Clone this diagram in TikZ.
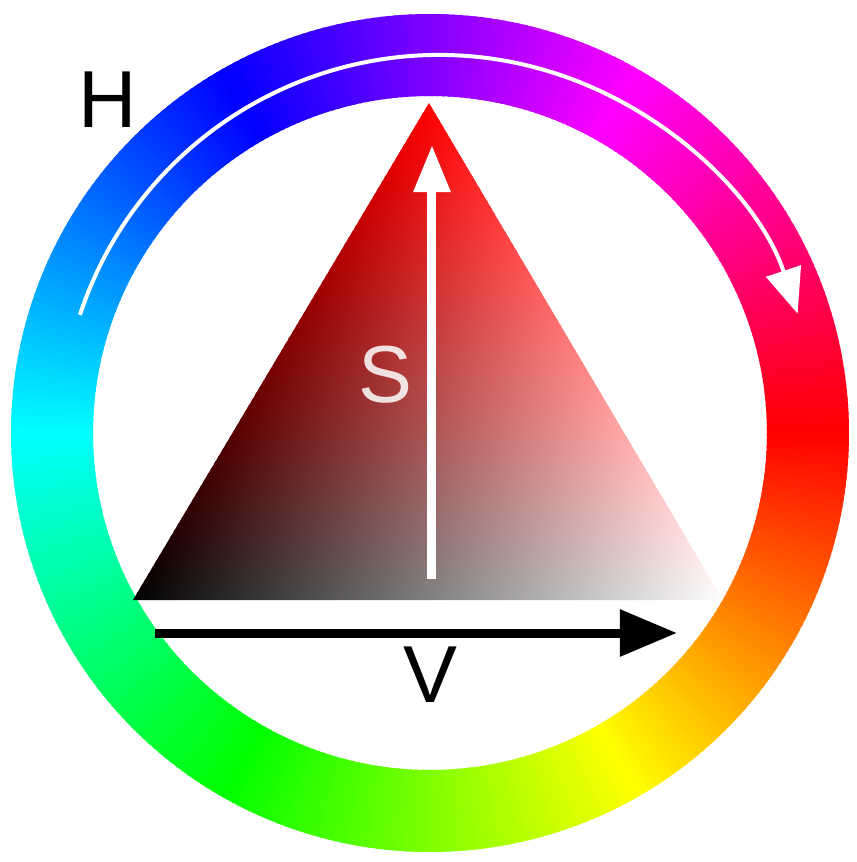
\documentclass[tikz,border=0pt]{standalone}
\usepackage{fontspec}
\setmainfont{Liberation Sans}
\usetikzlibrary{arrows.meta}

\begin{document}
\begin{tikzpicture}[>=Stealth,
  lbl/.style={font=\fontsize{23}{23}\selectfont, inner sep=0pt},
  axis/.style={line width=0.9mm}]
  \useasboundingbox[fill=white] (0,0) rectangle (8.56,8.62);
  % hue ring
  \coordinate (C) at (4.30,4.29);
  \foreach \a in {0,...,359}{
    \pgfmathtruncatemacro\hue{mod(360-\a,360)}
    \definecolor{ringcol}{Hsb}{\hue,1,1}
    \fill[ringcol, shift={(C)}] (\a-0.5:3.37) arc[start angle=\a-0.5, end angle=\a+1, radius=3.37]
      -- (\a+1:4.19) arc[start angle=\a+1, end angle=\a-0.5, radius=4.19] -- cycle;
  }
  % S/V triangle
  \coordinate (A) at (4.29,7.59);
  \coordinate (L) at (1.33,2.62);
  \coordinate (R) at (7.23,2.62);
  \begin{scope}
    \clip (A) -- (L) -- (R) -- cycle;
    \foreach \i in {0,...,79}{
      \pgfmathsetmacro\ylo{2.62+\i*4.97/80}
      \pgfmathsetmacro\yhi{\ylo+4.97/80+0.02}
      \pgfmathsetmacro\pct{100*(\i+0.5)/80}
      \pgfmathsetmacro\xlo{1.33+\i/80*(4.29-1.33)}
      \pgfmathsetmacro\xhi{7.23-\i/80*(7.23-4.29)}
      \shade[left color=red!\pct!black, right color=red!\pct!white] (\xlo,\ylo) rectangle (\xhi,\yhi);
    }
  \end{scope}
  % arrows
  \coordinate (v0) at (1.55,2.29);
  \coordinate (v1) at (6.77,2.29);
  \draw[axis, -{Triangle[length=5.7mm,width=4.5mm]}] (v0) -- (v1);
  \coordinate (s0) at (4.32,2.83);
  \coordinate (s1) at (4.32,7.17);
  \draw[axis, white, -{Triangle[length=4.7mm,width=3.5mm]}] (s0) -- (s1);
  \coordinate (hc) at (4.39,4.29);
  \draw[white, line width=0.4mm, -{Triangle[length=4.5mm,width=3.6mm]}]
    ([shift={(161.8:3.78)}]hc) arc[start angle=161.8, end angle=18.4, radius=3.78];
  % labels
  \node[lbl] (h) at (1.08,7.62) {H};
  \node[lbl, white, opacity=0.85] (s) at (3.85,4.87) {S};
  \node[lbl] (v) at (4.30,1.87) {V};
\end{tikzpicture}
\end{document}
